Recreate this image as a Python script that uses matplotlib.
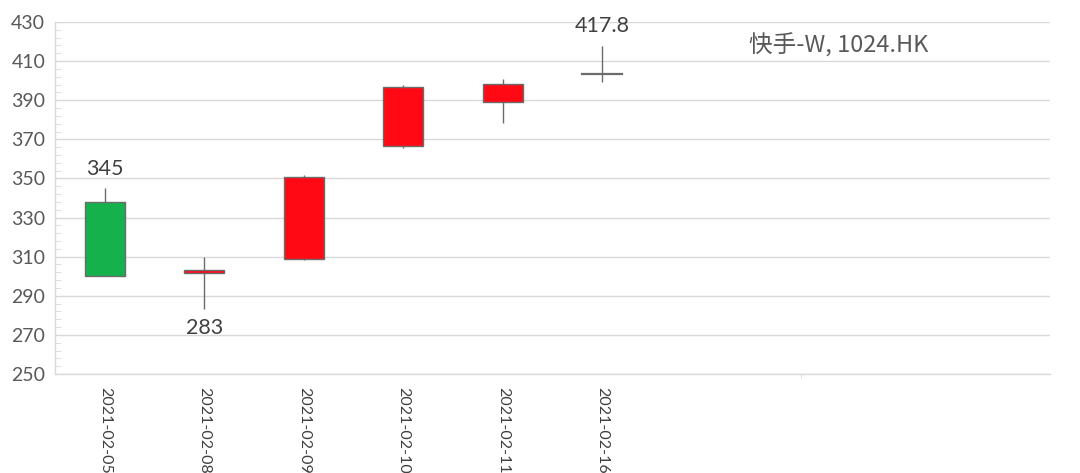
import matplotlib
matplotlib.use("Agg")
import matplotlib.pyplot as plt
from matplotlib.patches import Rectangle
from matplotlib.ticker import FixedLocator

plt.rcParams['font.family'] = ['Lato', 'Noto Sans CJK SC', 'DejaVu Sans']

dates = ["2021-02-05", "2021-02-08", "2021-02-09", "2021-02-10", "2021-02-11", "2021-02-16"]
opens = [338.1, 301.8, 308.8, 366.7, 389.1, 403.3]
closes = [300.0, 303.0, 350.5, 396.9, 398.1, 403.5]
highs = [345.0, 310.0, 351.7, 398.0, 400.7, 417.8]
lows = [300.0, 283.0, 308.1, 365.4, 378.2, 399.3]
n_slots = 10
y_ticks = [250, 270, 290, 310, 330, 350, 370, 390, 410, 430]
annot_idx = [0, 1, 5]
annot_text = ["345", "283", "417.8"]
annot_kind = ["high", "low", "high"]
title = "快手-W, 1024.HK"

UP = "#FF0A14"
DOWN = "#14B14C"
EDGE = "#6B6B6B"
GRID = "#D9D9D9"
TXT = "#595959"

fig = plt.figure(figsize=(10.8, 4.73), dpi=100)
ax = fig.add_axes([55/1080, (473-374)/473, (1050-55)/1080, (374-22)/473])

w = 0.40
for i, (o, c, h, l) in enumerate(zip(opens, closes, highs, lows)):
    ax.plot([i, i], [l, h], color=EDGE, lw=1.0, zorder=2, solid_capstyle='butt')
    if abs(c - o) < 0.5:
        ax.plot([i - w/2, i + w/2], [o, o], color=EDGE, lw=1.6, zorder=3)
    else:
        col = UP if c > o else DOWN
        lo, hi = min(o, c), max(o, c)
        ax.add_patch(Rectangle((i - w/2, lo), w, hi - lo, facecolor=col,
                               edgecolor=EDGE, lw=1.0, zorder=3))

for idx, t, k in zip(annot_idx, annot_text, annot_kind):
    if k == "high":
        ax.annotate(t, (idx, highs[idx]), xytext=(0, 7), textcoords='offset points',
                    ha='center', va='bottom', fontsize=15.5, color="#404040")
    else:
        ax.annotate(t, (idx, lows[idx]), xytext=(0, -6), textcoords='offset points',
                    ha='center', va='top', fontsize=15.5, color="#404040")

ax.text(0.697, 0.932, title, transform=ax.transAxes, fontsize=17, color=TXT,
        ha='left', va='center', family=['Noto Sans CJK SC', 'DejaVu Sans'])

ax.set_xlim(-0.5, n_slots - 0.5)
ax.set_ylim(250, 430)
ax.yaxis.set_major_locator(FixedLocator(y_ticks))
ax.yaxis.set_minor_locator(FixedLocator([v for v in range(250, 431, 4) if v not in y_ticks]))
ax.grid(axis='y', which='major', color=GRID, lw=1.0, zorder=0)
ax.set_axisbelow(True)

ax.set_xticks(range(len(dates)))
ax.set_xticklabels(dates, rotation=-90, fontsize=11.5, color="#404040")
ax.xaxis.set_minor_locator(FixedLocator([7]))
ax.tick_params(axis='x', which='major', length=0, pad=9)
ax.tick_params(axis='x', which='minor', length=3, color=GRID, direction='out')
ax.tick_params(axis='y', which='major', length=0, labelsize=14, labelcolor=TXT, pad=7)
ax.tick_params(axis='y', which='minor', length=4, color=GRID, direction='in')

for s in ['top', 'right']:
    ax.spines[s].set_visible(False)
for s in ['left', 'bottom']:
    ax.spines[s].set_color(GRID)
    ax.spines[s].set_linewidth(1.0)

fig.savefig("out.png", dpi=100, facecolor='white')
